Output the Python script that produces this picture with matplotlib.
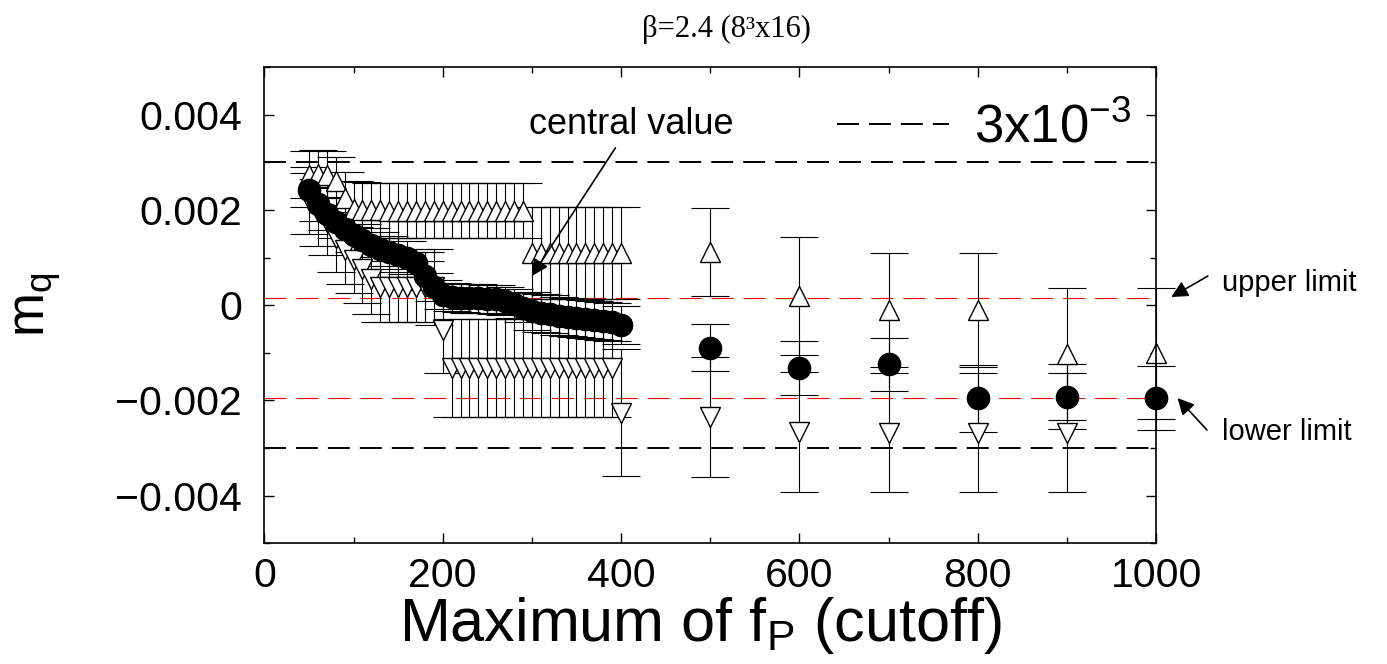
import numpy as np
import matplotlib
matplotlib.use('Agg')
import matplotlib.pyplot as plt
from matplotlib.ticker import MultipleLocator, FuncFormatter

plt.rcParams['font.family'] = 'Liberation Sans'
plt.rcParams['mathtext.default'] = 'regular'
plt.rcParams['lines.scale_dashes'] = False

# fine scan of the cutoff (values of m_q in units of 1e-3)
cut_fine = [50, 60, 70, 80, 90, 100, 110, 120, 130, 140, 150, 160, 170, 180,
            190, 200, 210, 220, 230, 240, 250, 260, 270, 280, 290, 300, 310,
            320, 330, 340, 350, 360, 370, 380, 390, 400]
central_fine = [2.42, 2.12, 1.92, 1.75, 1.60, 1.47, 1.36, 1.27, 1.18, 1.11,
                1.05, 1.00, 0.88, 0.62, 0.38, 0.22, 0.17, 0.15, 0.14, 0.14,
                0.13, 0.12, 0.09, 0.03, -0.05, -0.12, -0.16, -0.19, -0.22,
                -0.25, -0.27, -0.29, -0.31, -0.33, -0.35, -0.42]
central_fine_err = [0.35, 0.35, 0.35, 0.35, 0.35, 0.35, 0.35, 0.35, 0.35, 0.35,
                    0.35, 0.35, 0.30, 0.30, 0.30, 0.30, 0.30, 0.30, 0.30, 0.30,
                    0.30, 0.30, 0.30, 0.30, 0.30, 0.40, 0.40, 0.40, 0.40, 0.40,
                    0.40, 0.40, 0.40, 0.40, 0.40, 0.40]
upper_fine = [2.74, 2.76, 2.74, 2.60, 2.25, 2.02, 2.00, 1.99, 1.99, 1.98,
              1.98, 1.98, 1.98, 1.98, 1.98, 1.98, 1.98, 1.98, 1.98, 1.98,
              1.98, 1.98, 1.98, 1.98, 1.98, 1.10, 1.10, 1.10, 1.10, 1.10,
              1.10, 1.10, 1.10, 1.10, 1.10, 1.10]
upper_fine_err = [0.50, 0.50, 0.50, 0.50, 0.55, 0.58, 0.58, 0.58, 0.58, 0.58,
                  0.58, 0.58, 0.58, 0.58, 0.58, 0.58, 0.58, 0.58, 0.58, 0.58,
                  0.58, 0.58, 0.58, 0.58, 0.58, 0.97, 0.97, 0.97, 0.97, 0.97,
                  0.97, 0.97, 0.97, 0.97, 0.97, 0.97]
lower_fine = [2.20, 1.95, 1.75, 1.40, 1.15, 0.95, 0.75, 0.55, 0.38, 0.38,
              0.38, 0.38, 0.38, 0.38, 0.38, -0.52, -1.32, -1.32, -1.32, -1.32,
              -1.32, -1.32, -1.32, -1.32, -1.32, -1.32, -1.32, -1.32, -1.32,
              -1.32, -1.32, -1.32, -1.32, -1.32, -1.32, -2.26]
lower_fine_err = [0.70, 0.70, 0.70, 0.70, 0.70, 0.70, 0.70, 0.73, 0.73, 0.73,
                  0.73, 0.73, 0.73, 0.73, 0.80, 0.90, 1.03, 1.03, 1.03, 1.03,
                  1.03, 1.03, 1.03, 1.03, 1.03, 1.03, 1.03, 1.03, 1.03, 1.03,
                  1.03, 1.03, 1.03, 1.03, 1.03, 1.33]

# coarse scan
cut_coarse = [500, 600, 700, 800, 900, 1000]
central_coarse = [-0.89, -1.32, -1.24, -1.96, -1.92, -1.95]
central_coarse_err = [0.50, 0.56, 0.56, 0.70, 0.68, 0.67]
upper_coarse = [1.12, 0.19, -0.10, -0.10, -1.02, -1.01]
upper_coarse_err = [0.93, 1.24, 1.20, 1.20, 1.39, 1.38]
cut_coarse_low = [500, 600, 700, 800, 900]
lower_coarse = [-2.35, -2.66, -2.68, -2.68, -2.68]
lower_coarse_err = [1.26, 1.26, 1.25, 1.25, 1.25]

# reference lines
bound = 3.0
upper_limit = 0.16
lower_limit = -1.95

s = 1e-3
fig = plt.figure(figsize=(13.87, 6.64), dpi=100)
ax = fig.add_axes([0.1906, 0.1818, 0.6429, 0.7173])

eb = dict(fmt='none', ecolor='black', elinewidth=0.8, capsize=13.7,
          capthick=0.8, zorder=1)
tri = dict(linestyle='none', markersize=15, mfc='white', mec='black',
           mew=1.0, zorder=2, clip_on=False)

for xs, ys, es in [(cut_fine, upper_fine, upper_fine_err),
                   (cut_fine, lower_fine, lower_fine_err),
                   (cut_fine, central_fine, central_fine_err),
                   (cut_coarse, upper_coarse, upper_coarse_err),
                   (cut_coarse_low, lower_coarse, lower_coarse_err),
                   (cut_coarse, central_coarse, central_coarse_err)]:
    cont = ax.errorbar(xs, np.array(ys) * s, yerr=np.array(es) * s, **eb)
    for art in cont.lines[1] + cont.lines[2]:
        art.set_clip_on(False)

ax.plot(cut_fine, np.array(upper_fine) * s, marker='^', **tri)
ax.plot(cut_coarse, np.array(upper_coarse) * s, marker='^', **tri)
ax.plot(cut_fine, np.array(lower_fine) * s, marker='v', **tri)
ax.plot(cut_coarse_low, np.array(lower_coarse) * s, marker='v', **tri)
ax.plot(cut_fine, np.array(central_fine) * s, 'o', color='black',
        markersize=16, zorder=3, clip_on=False)
ax.plot(cut_coarse, np.array(central_coarse) * s, 'o', color='black',
        markersize=16, zorder=3, clip_on=False)

ax.axhline(bound * s, color='black', lw=1.4, dashes=(15.8, 7.2), zorder=0,
           label='$3x10^{-3}$')
ax.axhline(-bound * s, color='black', lw=1.4, dashes=(15.8, 7.2), zorder=0)
ax.axhline(upper_limit * s, color='red', lw=0.8, dashes=(15.8, 7.2), zorder=0)
ax.axhline(lower_limit * s, color='red', lw=0.8, dashes=(15.8, 7.2), zorder=0)

ax.set_xlim(0, 1000)
ax.set_ylim(-0.005, 0.005)
ax.xaxis.set_major_locator(MultipleLocator(200))
ax.xaxis.set_minor_locator(MultipleLocator(100))
ax.yaxis.set_major_locator(MultipleLocator(0.002))
ax.yaxis.set_minor_locator(MultipleLocator(0.001))
ax.yaxis.set_major_formatter(FuncFormatter(
    lambda v, p: '0' if abs(v) < 1e-9 else ('%.3f' % v).replace('-', '\u2212')))
ax.tick_params(which='both', direction='in', top=True, right=True,
               width=1.0, labelsize=29.5)
ax.tick_params(which='major', length=7.5)
ax.tick_params(which='minor', length=4.5)
ax.tick_params(axis='x', pad=10)
ax.tick_params(axis='y', pad=16)
for sp in ax.spines.values():
    sp.set_linewidth(1.2)

ax.set_xlabel('Maximum of $f_P$ (cutoff)', fontsize=44)
ax.xaxis.set_label_coords(0.489, -0.108)
ax.set_ylabel('$m_q$', fontsize=38)
ax.yaxis.set_label_coords(-0.226, 0.5)

fig.text(0.524, 0.955, 'β=2.4 (8³x16)', family='Liberation Serif',
         fontsize=22, ha='center', va='center')

ax.legend(loc='center left', bbox_to_anchor=(0.642, 0.872), frameon=False,
          fontsize=38, handlelength=2.13, handletextpad=0.47, borderpad=0,
          borderaxespad=0)

arrow = dict(arrowstyle='-|>', color='black', lw=1.2, mutation_scale=25,
             shrinkA=0, shrinkB=0)
ax.annotate('central value', xy=(300, 0.61 * s), xytext=(411, 3.80 * s),
            ha='center', va='center', fontsize=26,
            arrowprops=dict(arrowstyle='-|>', color='black', lw=1.2,
                            mutation_scale=25, shrinkA=3, shrinkB=0))
ax.annotate('', xy=(1017, 0.17 * s), xytext=(1058, 0.61 * s),
            arrowprops=arrow, annotation_clip=False)
ax.annotate('', xy=(1024, -1.95 * s), xytext=(1057, -2.62 * s),
            arrowprops=arrow, annotation_clip=False)
ax.text(1074, 0.47 * s, 'upper limit', fontsize=21, va='center', ha='left',
        clip_on=False)
ax.text(1074, -2.66 * s, 'lower limit', fontsize=21, va='center', ha='left',
        clip_on=False)

fig.savefig('out.png', dpi=100)
